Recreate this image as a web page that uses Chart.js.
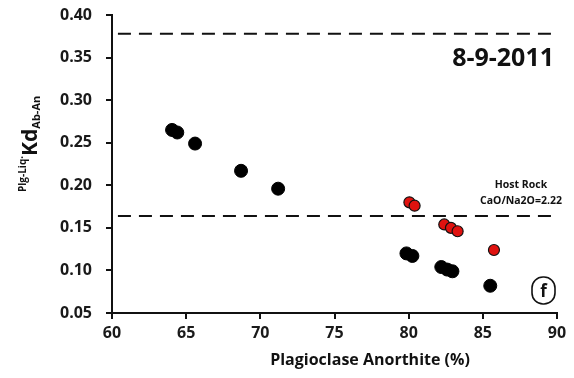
<!DOCTYPE html>
<html>
<head>
<meta charset="utf-8">
<script src="https://cdn.jsdelivr.net/npm/chart.js@4"></script>
<style>
  html, body { margin: 0; padding: 0; background: #fff; }
  #wrap { width: 574px; height: 378px; }
</style>
</head>
<body>
<div id="wrap"><canvas id="kd-chart" width="574" height="378"></canvas></div>
<script>
/* ─── DATA ─── */
const blackAn = [64.05, 64.4, 65.6, 68.7, 71.2, 79.85, 80.25, 82.2, 82.6, 82.95, 85.5];
const blackKd = [0.265, 0.262, 0.249, 0.217, 0.196, 0.120, 0.117, 0.104, 0.101, 0.099, 0.082];

const redAn = [80.05, 80.4, 82.4, 82.85, 83.3, 85.75];
const redKd = [0.180, 0.176, 0.154, 0.150, 0.146, 0.124];

const upperLimitKd = 0.378;   // top dashed line
const hostRockKd   = 0.164;   // host rock dashed line
const dashX = [60.4, 90];

const xTicks = [60, 65, 70, 75, 80, 85, 90];
const yTicks = [0.05, 0.10, 0.15, 0.20, 0.25, 0.30, 0.35, 0.40];

const FONT = "'Open Sans', 'DejaVu Sans', sans-serif";

const pts = (xs, ys) => xs.map((x, i) => ({ x, y: ys[i] }));
const hline = v => dashX.map(x => ({ x, y: v }));

/* ─── TEXT OVERLAYS ─── */
const overlay = {
  id: 'overlay',
  afterDraw(chart) {
    const ctx = chart.ctx;
    ctx.save();
    ctx.fillStyle = '#111';
    ctx.textBaseline = 'alphabetic';

    // date label
    ctx.textAlign = 'right';
    ctx.font = `bold 25px ${FONT}`;
    ctx.fillText('8-9-2011', 554, 66);

    // host rock note
    ctx.textAlign = 'center';
    ctx.font = `bold 10.5px ${FONT}`;
    ctx.fillText('Host Rock', 521, 188);
    ctx.fillText('CaO/Na2O=2.22', 521, 204);

    // x title
    ctx.font = `bold 16px ${FONT}`;
    ctx.fillText('Plagioclase Anorthite (%)', 370, 365);

    // panel letter in rounded box
    ctx.lineWidth = 1.6;
    ctx.strokeStyle = '#111';
    ctx.beginPath();
    ctx.roundRect(532, 277, 23, 27, 11);
    ctx.stroke();
    ctx.font = `bold 17px ${FONT}`;
    ctx.fillText('f', 543.5, 297);

    // y title: Plg-Liq·Kd Ab-An (rotated)
    ctx.translate(37, 192);
    ctx.rotate(-Math.PI / 2);
    ctx.textAlign = 'left';
    let x = 0;
    ctx.font = `bold 10px ${FONT}`;
    ctx.fillText('Plg-Liq·', x, -11);
    x += ctx.measureText('Plg-Liq·').width;
    ctx.font = `bold 21px ${FONT}`;
    ctx.fillText('Kd', x, 0);
    x += ctx.measureText('Kd').width;
    ctx.font = `bold 11px ${FONT}`;
    ctx.fillText('Ab-An', x, 3);
    ctx.restore();
  }
};

/* ─── CHART ─── */
new Chart(document.getElementById('kd-chart'), {
  type: 'scatter',
  data: {
    datasets: [
      {
        data: hline(upperLimitKd),
        type: 'line',
        borderColor: '#111',
        borderWidth: 2,
        borderDash: [13, 8],
        pointRadius: 0,
        order: 3
      },
      {
        data: hline(hostRockKd),
        type: 'line',
        borderColor: '#111',
        borderWidth: 2,
        borderDash: [13, 8],
        pointRadius: 0,
        order: 3
      },
      {
        data: pts(blackAn, blackKd),
        backgroundColor: '#000',
        borderColor: '#000',
        pointRadius: 6.5,
        order: 1
      },
      {
        data: pts(redAn, redKd),
        backgroundColor: '#e0120f',
        borderColor: '#111',
        borderWidth: 1.2,
        pointRadius: 5.5,
        order: 0
      }
    ]
  },
  options: {
    responsive: false,
    animation: false,
    layout: { padding: { left: 0, right: 17, top: 15, bottom: 0 } },
    plugins: { legend: { display: false }, tooltip: { enabled: false } },
    scales: {
      x: {
        type: 'linear',
        min: xTicks[0],
        max: xTicks[xTicks.length - 1],
        afterBuildTicks: s => { s.ticks = xTicks.map(v => ({ value: v })); },
        afterFit: s => { s.height = 65; s.paddingLeft = 0; s.paddingRight = 0; },
        border: { display: true, color: '#111', width: 2 },
        grid: { drawOnChartArea: false, drawTicks: true, tickLength: 6, color: '#111', lineWidth: 2 },
        ticks: {
          color: '#1a1a1a',
          padding: 5,
          maxRotation: 0,
          font: { family: FONT, size: 16, weight: 'bold' },
          callback: v => v
        }
      },
      y: {
        type: 'linear',
        min: yTicks[0],
        max: yTicks[yTicks.length - 1],
        afterBuildTicks: s => { s.ticks = yTicks.map(v => ({ value: v })); },
        afterFit: s => { s.width = 112; s.paddingTop = 0; s.paddingBottom = 0; },
        border: { display: true, color: '#111', width: 2 },
        grid: { drawOnChartArea: false, drawTicks: true, tickLength: 6, color: '#111', lineWidth: 2 },
        ticks: {
          color: '#1a1a1a',
          padding: 14,
          font: { family: FONT, size: 16, weight: 'bold' },
          callback: v => v.toFixed(2)
        }
      }
    }
  },
  plugins: [overlay]
});
</script>
</body>
</html>
